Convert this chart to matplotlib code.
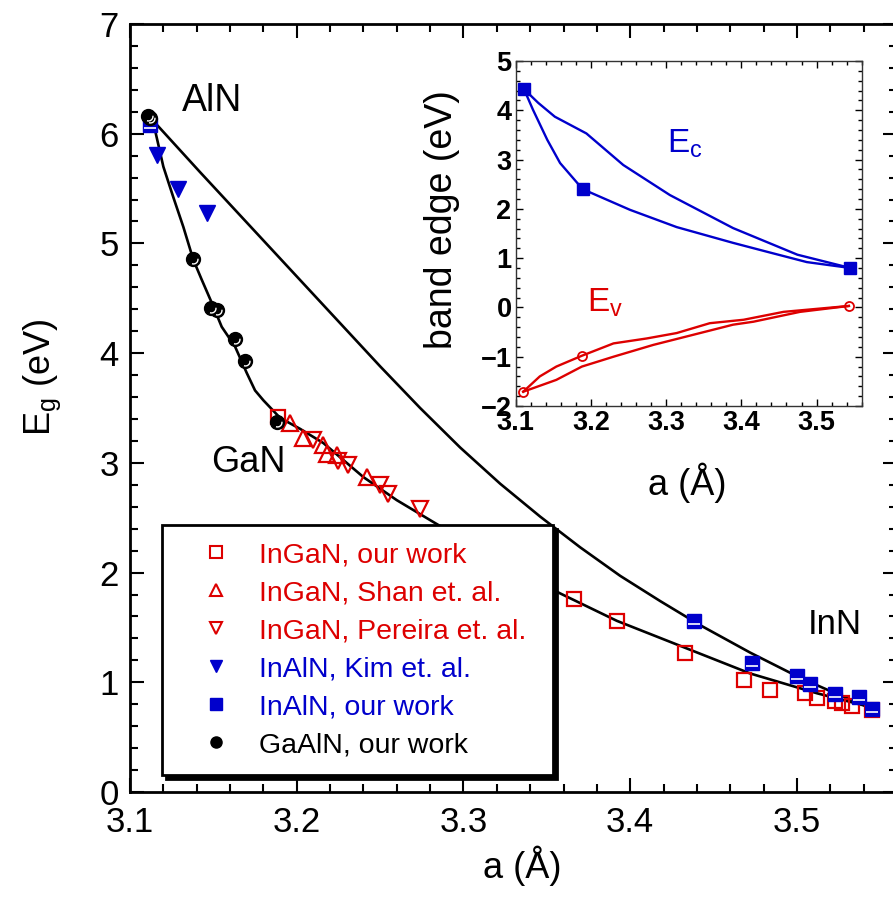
import matplotlib
matplotlib.use("Agg")
import matplotlib.pyplot as plt
from matplotlib.lines import Line2D
from matplotlib.path import Path
from matplotlib.ticker import MultipleLocator

plt.rcParams['font.family'] = ['Liberation Sans', 'DejaVu Sans']
plt.rcParams['mathtext.default'] = 'regular'

RED = "#dd0000"
BLUE = "#0000cc"

# ---- main panel: band gap vs lattice constant ----
lower_x = [3.112, 3.114, 3.120, 3.126, 3.132, 3.138, 3.143, 3.149, 3.155, 3.163, 3.170,
           3.175, 3.180, 3.190, 3.202, 3.216, 3.240, 3.260, 3.282, 3.320, 3.358, 3.392,
           3.432, 3.472, 3.512, 3.545]
lower_y = [6.16, 6.10, 5.70, 5.42, 5.15, 4.85, 4.67, 4.46, 4.24, 4.06, 3.82,
           3.66, 3.57, 3.41, 3.31, 3.18, 2.87, 2.66, 2.46, 2.12, 1.81, 1.56,
           1.32, 1.08, 0.90, 0.77]

upper_x = [3.112, 3.142, 3.178, 3.214, 3.250, 3.274, 3.298, 3.322, 3.346, 3.370,
           3.394, 3.418, 3.442, 3.472, 3.502, 3.526, 3.542]
upper_y = [6.15, 5.65, 5.06, 4.47, 3.88, 3.50, 3.14, 2.81, 2.51, 2.23,
           1.97, 1.74, 1.52, 1.27, 1.04, 0.88, 0.78]

ingan_our_x = [3.189, 3.366, 3.392, 3.433, 3.468, 3.484, 3.505, 3.512, 3.523, 3.527, 3.533, 3.545]
ingan_our_y = [3.42, 1.76, 1.56, 1.27, 1.02, 0.93, 0.90, 0.86, 0.83, 0.81, 0.78, 0.75]

ingan_shan_x = [3.196, 3.204, 3.216, 3.218, 3.224, 3.242]
ingan_shan_y = [3.36, 3.23, 3.16, 3.08, 3.07, 2.87]

ingan_pereira_x = [3.210, 3.225, 3.231, 3.250, 3.255, 3.274]
ingan_pereira_y = [3.21, 3.02, 2.98, 2.80, 2.72, 2.58]

inaln_kim_x = [3.116, 3.129, 3.146]
inaln_kim_y = [5.81, 5.50, 5.28]

inaln_our_x = [3.112, 3.438, 3.473, 3.500, 3.508, 3.523, 3.537, 3.545]
inaln_our_y = [6.08, 1.56, 1.18, 1.06, 0.98, 0.89, 0.87, 0.76]

gaaln_x = [3.111, 3.112, 3.138, 3.1485, 3.152, 3.163, 3.169, 3.188]
gaaln_y = [6.16, 6.14, 4.86, 4.41, 4.39, 4.13, 3.93, 3.37]

legend_labels = ["InGaN, our work", "InGaN, Shan et. al.", "InGaN, Pereira et. al.",
                 "InAlN, Kim et. al.", "InAlN, our work", "GaAlN, our work"]
legend_colors = [RED, RED, RED, BLUE, BLUE, "black"]

# ---- inset: band edges ----
ec_direct_x = [3.111, 3.130, 3.152, 3.194, 3.243, 3.305, 3.389, 3.4745, 3.545]
ec_direct_y = [4.43, 4.15, 3.87, 3.53, 2.89, 2.28, 1.61, 1.07, 0.80]
ec_via_x = [3.111, 3.123, 3.142, 3.159, 3.189, 3.252, 3.314, 3.389, 3.434, 3.487, 3.545]
ec_via_y = [4.43, 4.01, 3.40, 2.93, 2.40, 1.98, 1.63, 1.31, 1.13, 0.92, 0.80]
ec_pts_x = [3.111, 3.189, 3.545]
ec_pts_y = [4.43, 2.40, 0.80]

ev_via_x = [3.110, 3.132, 3.154, 3.188, 3.230, 3.274, 3.314, 3.358, 3.403, 3.456, 3.543]
ev_via_y = [-1.71, -1.40, -1.20, -0.98, -0.73, -0.63, -0.52, -0.32, -0.25, -0.09, 0.03]
ev_direct_x = [3.110, 3.154, 3.188, 3.230, 3.283, 3.327, 3.389, 3.416, 3.478, 3.543]
ev_direct_y = [-1.71, -1.47, -1.20, -1.00, -0.76, -0.59, -0.35, -0.29, -0.09, 0.03]
ev_pts_x = [3.110, 3.188, 3.543]
ev_pts_y = [-1.71, -0.98, 0.03]

# small highlight marks (glossy ball / white bar on squares)
arc_marker = Path.arc(-110, 10)
bar_marker = Path([(-1, -0.62), (1, -0.62)], [Path.MOVETO, Path.LINETO])

fig = plt.figure(figsize=(8.93, 9.0), dpi=100)
ax = fig.add_axes([130 / 893, 1 - 792 / 900, (897 - 130) / 893, (792 - 24) / 900])

ax.plot(lower_x, lower_y, color="black", lw=1.9, zorder=2)
ax.plot(upper_x, upper_y, color="black", lw=1.9, zorder=2)

ax.plot(ingan_our_x, ingan_our_y, ls="none", marker="s", ms=10.5, mfc="none",
        mec=RED, mew=1.6, zorder=3)
ax.plot(ingan_shan_x, ingan_shan_y, ls="none", marker="^", ms=11, mfc="none",
        mec=RED, mew=1.6, zorder=3)
ax.plot(ingan_pereira_x, ingan_pereira_y, ls="none", marker="v", ms=11, mfc="none",
        mec=RED, mew=1.6, zorder=3)
ax.plot(inaln_kim_x, inaln_kim_y, ls="none", marker="v", ms=11.5, color=BLUE, zorder=3)
ax.plot(inaln_our_x, inaln_our_y, ls="none", marker="s", ms=10, color=BLUE, zorder=3)
ax.plot(inaln_our_x, inaln_our_y, ls="none", marker=bar_marker, ms=8, mfc="none",
        mec="white", mew=1.2, zorder=3)
ax.plot(gaaln_x, gaaln_y, ls="none", marker="o", ms=10, color="black", zorder=4)
ax.plot(gaaln_x, gaaln_y, ls="none", marker=arc_marker, ms=6.5, mfc="none",
        mec="white", mew=1.0, zorder=4)

ax.text(3.149, 6.30, "AlN", fontsize=27, ha="center", va="center")
ax.text(3.171, 3.00, "GaN", fontsize=26, ha="center", va="center")
ax.text(3.523, 1.53, "InN", fontsize=25, ha="center", va="center")

ax.set_xlim(3.1, 3.56)
ax.set_ylim(0, 7)
ax.xaxis.set_major_locator(MultipleLocator(0.1))
ax.xaxis.set_minor_locator(MultipleLocator(0.02))
ax.yaxis.set_major_locator(MultipleLocator(1))
ax.yaxis.set_minor_locator(MultipleLocator(0.2))
ax.tick_params(which="both", direction="in", top=True, right=True, width=1.5)
ax.tick_params(which="major", length=10, labelsize=25)
ax.tick_params(axis="x", which="major", pad=10)
ax.tick_params(axis="y", which="major", pad=8)
ax.tick_params(which="minor", length=6)
ax.set_xticks([3.1, 3.2, 3.3, 3.4, 3.5])
ax.set_xticklabels(["3.1", "3.2", "3.3", "3.4", "3.5"])
for s in ax.spines.values():
    s.set_linewidth(2)

ax.set_xlabel("a (Å)", fontsize=26)
ax.xaxis.set_label_coords(0.511, -0.07)
ax.set_ylabel("E$_g$ (eV)", fontsize=26)
ax.yaxis.set_label_coords(-0.088, 0.54)

handles = [
    Line2D([], [], ls="none", marker="s", ms=8, mfc="none", mec=RED, mew=1.5),
    Line2D([], [], ls="none", marker="^", ms=8, mfc="none", mec=RED, mew=1.5),
    Line2D([], [], ls="none", marker="v", ms=8, mfc="none", mec=RED, mew=1.5),
    Line2D([], [], ls="none", marker="v", ms=9, color=BLUE),
    Line2D([], [], ls="none", marker="s", ms=8.5, color=BLUE),
    Line2D([], [], ls="none", marker="o", ms=8, color="black"),
]
leg = ax.legend(handles, legend_labels, loc="lower left",
                bbox_to_anchor=(0.0417, 0.022, 0.51, 0.33), mode="expand",
                borderaxespad=0, fontsize=20.5, handlelength=2.6, handletextpad=0.2,
                labelspacing=0.42, borderpad=0.6, fancybox=False, framealpha=1,
                shadow={"ox": 3, "oy": -3, "color": "black", "alpha": 1})
leg.get_frame().set_edgecolor("black")
leg.get_frame().set_linewidth(2)
for t, c in zip(leg.get_texts(), legend_colors):
    t.set_color(c)

# ---- inset ----
axi = fig.add_axes([515.7 / 893, 1 - 406 / 900, 346 / 893, 345 / 900])
axi.plot(ec_direct_x, ec_direct_y, color=BLUE, lw=1.7)
axi.plot(ec_via_x, ec_via_y, color=BLUE, lw=1.7)
axi.plot(ec_pts_x, ec_pts_y, ls="none", marker="s", ms=8.5, color=BLUE)
axi.plot(ev_via_x, ev_via_y, color=RED, lw=1.7)
axi.plot(ev_direct_x, ev_direct_y, color=RED, lw=1.7)
axi.plot(ev_pts_x, ev_pts_y, ls="none", marker="o", ms=6.5, mfc="none", mec=RED, mew=1.3)

axi.text(3.301, 3.15, "E$_c$", fontsize=24, color=BLUE, ha="left", va="baseline")
axi.text(3.195, -0.09, "E$_v$", fontsize=24, color=RED, ha="left", va="baseline")

axi.set_xlim(3.1, 3.56)
axi.set_ylim(-2, 5)
axi.xaxis.set_major_locator(MultipleLocator(0.1))
axi.xaxis.set_minor_locator(MultipleLocator(0.02))
axi.yaxis.set_major_locator(MultipleLocator(1))
axi.yaxis.set_minor_locator(MultipleLocator(0.2))
axi.set_xticks([3.1, 3.2, 3.3, 3.4, 3.5])
axi.set_xticklabels(["3.1", "3.2", "3.3", "3.4", "3.5"])
axi.tick_params(which="both", direction="in", top=True, right=True, width=1.0)
axi.tick_params(which="major", length=5, labelsize=19.5, pad=3)
axi.tick_params(which="minor", length=3)
for lab in axi.get_xticklabels() + axi.get_yticklabels():
    lab.set_fontweight("bold")
for s in axi.spines.values():
    s.set_linewidth(1.0)
    s.set_color("#333333")

axi.set_xlabel("a (Å)", fontsize=26)
axi.xaxis.set_label_coords(0.495, -0.165)
axi.set_ylabel("band edge (eV)", fontsize=27)
axi.yaxis.set_label_coords(-0.16, 0.54)

fig.savefig("out.png", dpi=100)
